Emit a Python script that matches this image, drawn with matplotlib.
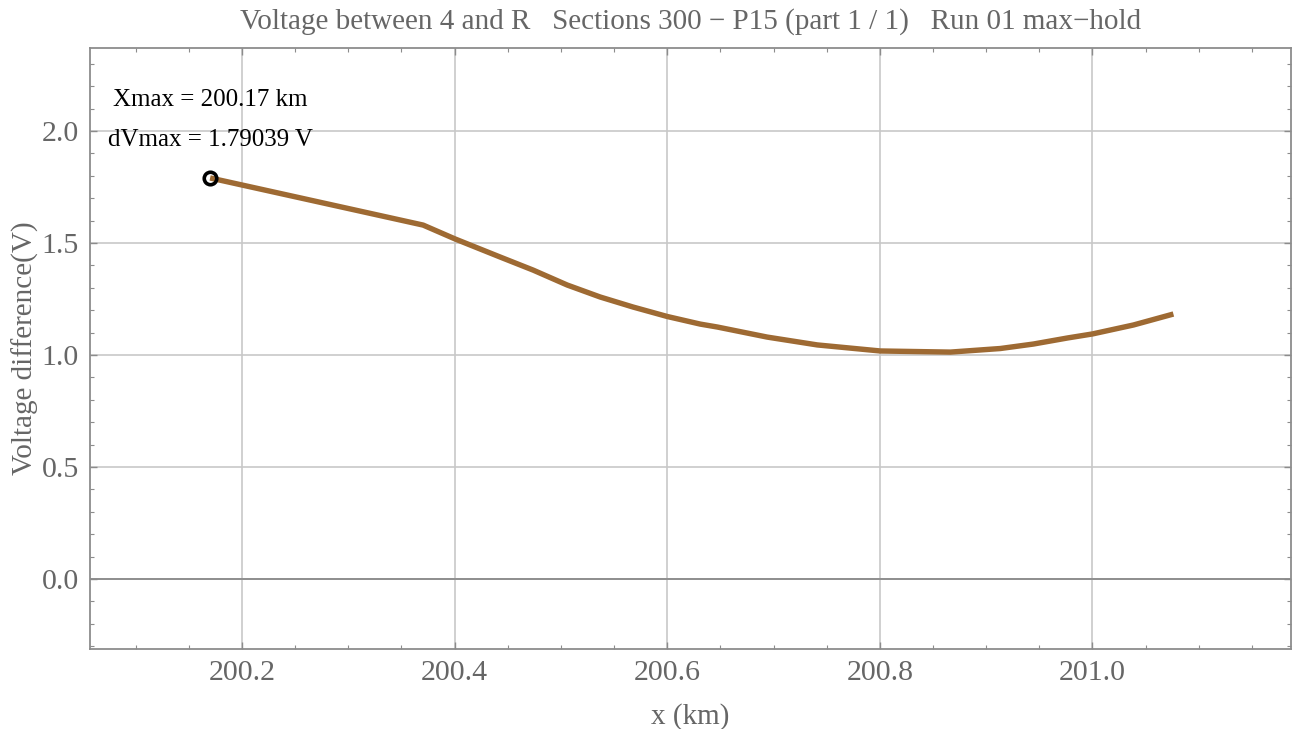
import matplotlib
matplotlib.use("Agg")
import matplotlib.pyplot as plt
from matplotlib.ticker import MultipleLocator

plt.rcParams['font.family'] = ['Liberation Serif', 'DejaVu Serif']

# curve (km, V)
x_km = [200.17, 200.3704, 200.4005, 200.4428, 200.4739, 200.5059, 200.5369,
        200.568, 200.6, 200.6311, 200.6471, 200.6941, 200.7412, 200.8005,
        200.8664, 200.9134, 200.9445, 200.9765, 201.0, 201.0386, 201.0762]
dv = [1.79039, 1.58, 1.518, 1.4375, 1.379, 1.3125, 1.259,
      1.214, 1.172, 1.138, 1.125, 1.08, 1.045, 1.018,
      1.013, 1.029, 1.049, 1.076, 1.094, 1.134, 1.183]

x_max = 200.17
dv_max = 1.79039

title = "Voltage between 4 and R   Sections 300 \u2212 P15 (part 1 / 1)   Run 01 max\u2212hold"

grey = "#666666"
frame = "#8c8c8c"

fig = plt.figure(figsize=(12.93, 7.29), dpi=100)
ax = fig.add_axes([0.0696, 0.1097, 0.929, 0.8243])

ax.plot(x_km, dv, color="#9E6A33", lw=3.9, solid_capstyle="butt",
        solid_joinstyle="round", zorder=3)
ax.plot([x_max], [dv_max], marker="o", ms=9, mfc="none", mec="black", mew=2.6, zorder=4)

ax.set_xlim(200.057, 201.187)
ax.set_ylim(-0.3125, 2.37)

ax.xaxis.set_major_locator(MultipleLocator(0.2))
ax.xaxis.set_minor_locator(MultipleLocator(0.05))
ax.yaxis.set_major_locator(MultipleLocator(0.5))
ax.yaxis.set_minor_locator(MultipleLocator(0.1))
ax.xaxis.set_major_formatter(matplotlib.ticker.FormatStrFormatter("%.1f"))
ax.yaxis.set_major_formatter(matplotlib.ticker.FormatStrFormatter("%.1f"))

ax.grid(True, which="major", color="#c8c8c8", lw=1.2)
ax.axhline(0, color="#8a8a8a", lw=1.3, zorder=2)

for s in ax.spines.values():
    s.set_color(frame)
    s.set_linewidth(1.3)

ax.tick_params(which="both", direction="in", top=True, right=True, color=frame,
               labelsize=21.5, labelcolor=grey)
ax.tick_params(which="major", length=5, width=1.0, pad=8)
ax.tick_params(which="minor", length=3, width=0.8)

ax.set_xlabel("x (km)", fontsize=21, color=grey, labelpad=12)
ax.set_ylabel("Voltage difference(V)", fontsize=21, color=grey, labelpad=2)

# title is centred over the plot frame, not the whole figure
ax.set_title(title, fontsize=21, color=grey, pad=14)

ax.text(0.1, 0.913, "Xmax = %.2f km" % x_max, transform=ax.transAxes,
        ha="center", va="center", fontsize=18, color="black")
ax.text(0.1, 0.847, "dVmax = %.5f V" % dv_max, transform=ax.transAxes,
        ha="center", va="center", fontsize=18, color="black")

fig.savefig("out.png", dpi=100)
